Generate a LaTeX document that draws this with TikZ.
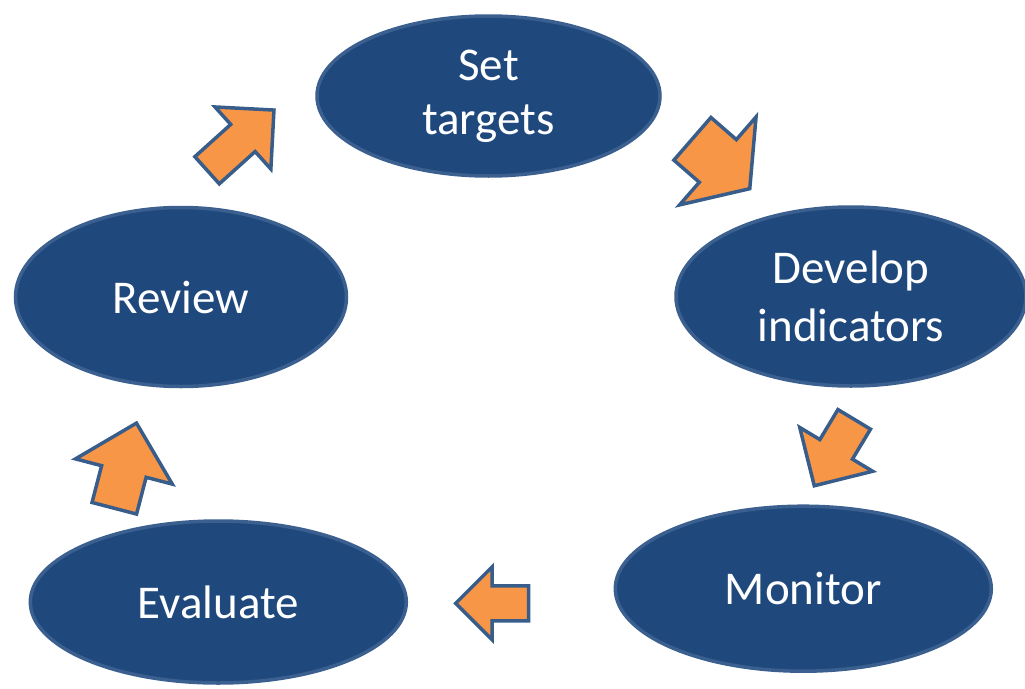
\documentclass[tikz,border=0pt]{standalone}
\usepackage{fontspec}
\setmainfont{Carlito}
\usetikzlibrary{shapes.geometric,shapes.arrows}
\definecolor{stagefill}{RGB}{31,73,125}
\definecolor{stageline}{RGB}{59,96,143}
\definecolor{arrowfill}{RGB}{247,150,70}
\definecolor{arrowline}{RGB}{56,93,138}
\tikzstyle{stage}=[ellipse,draw=stageline,line width=3.5pt,fill=stagefill,text=white,inner sep=0pt,align=center,font=\fontsize{47}{58}\selectfont]
\tikzstyle{cyclearrow}=[single arrow,draw=arrowline,line width=3.5pt,fill=arrowfill,inner xsep=0pt,anchor=tip]

\begin{document}
\begin{tikzpicture}[x=1pt,y=-1pt]
  \useasboundingbox (0,0) rectangle (1025,688);
  % the five stages
  \node[stage,minimum width=343pt,minimum height=160pt,font=\fontsize{47}{54}\selectfont] (targets) at (488.5,96) {Set\\targets};
  \node[stage,minimum width=350pt,minimum height=179pt] (indicators) at (851,296.5) {Develop\\indicators};
  \node[stage,minimum width=376pt,minimum height=165pt] (monitor) at (803.3,588.7) {Monitor};
  \node[stage,minimum width=376pt,minimum height=162pt] (evaluate) at (218.3,602) {Evaluate};
  \node[stage,minimum width=331pt,minimum height=179pt] (review) at (181,297) {Review};
  % block arrows between them
  \node[cyclearrow,rotate=42,inner ysep=16.5pt,minimum height=90pt,single arrow head extend=23.5pt] (toTargets) at (275.8,108.4) {};
  \node[cyclearrow,rotate=-41,inner ysep=26.5pt,minimum height=76pt,single arrow head extend=30pt,single arrow tip angle=108] (toIndicators) at (751.4,190.1) {};
  \node[cyclearrow,rotate=239,inner ysep=17.25pt,minimum height=77.5pt,single arrow head extend=23.5pt] (toMonitor) at (813,487.9) {};
  \node[cyclearrow,rotate=180,inner ysep=15.75pt,minimum height=73pt,single arrow head extend=19pt] (toEvaluate) at (453.2,603.3) {};
  \node[cyclearrow,rotate=75.4,inner ysep=21.25pt,minimum height=88pt,single arrow head extend=27pt] (toReview) at (137.1,420.7) {};
\end{tikzpicture}
\end{document}
